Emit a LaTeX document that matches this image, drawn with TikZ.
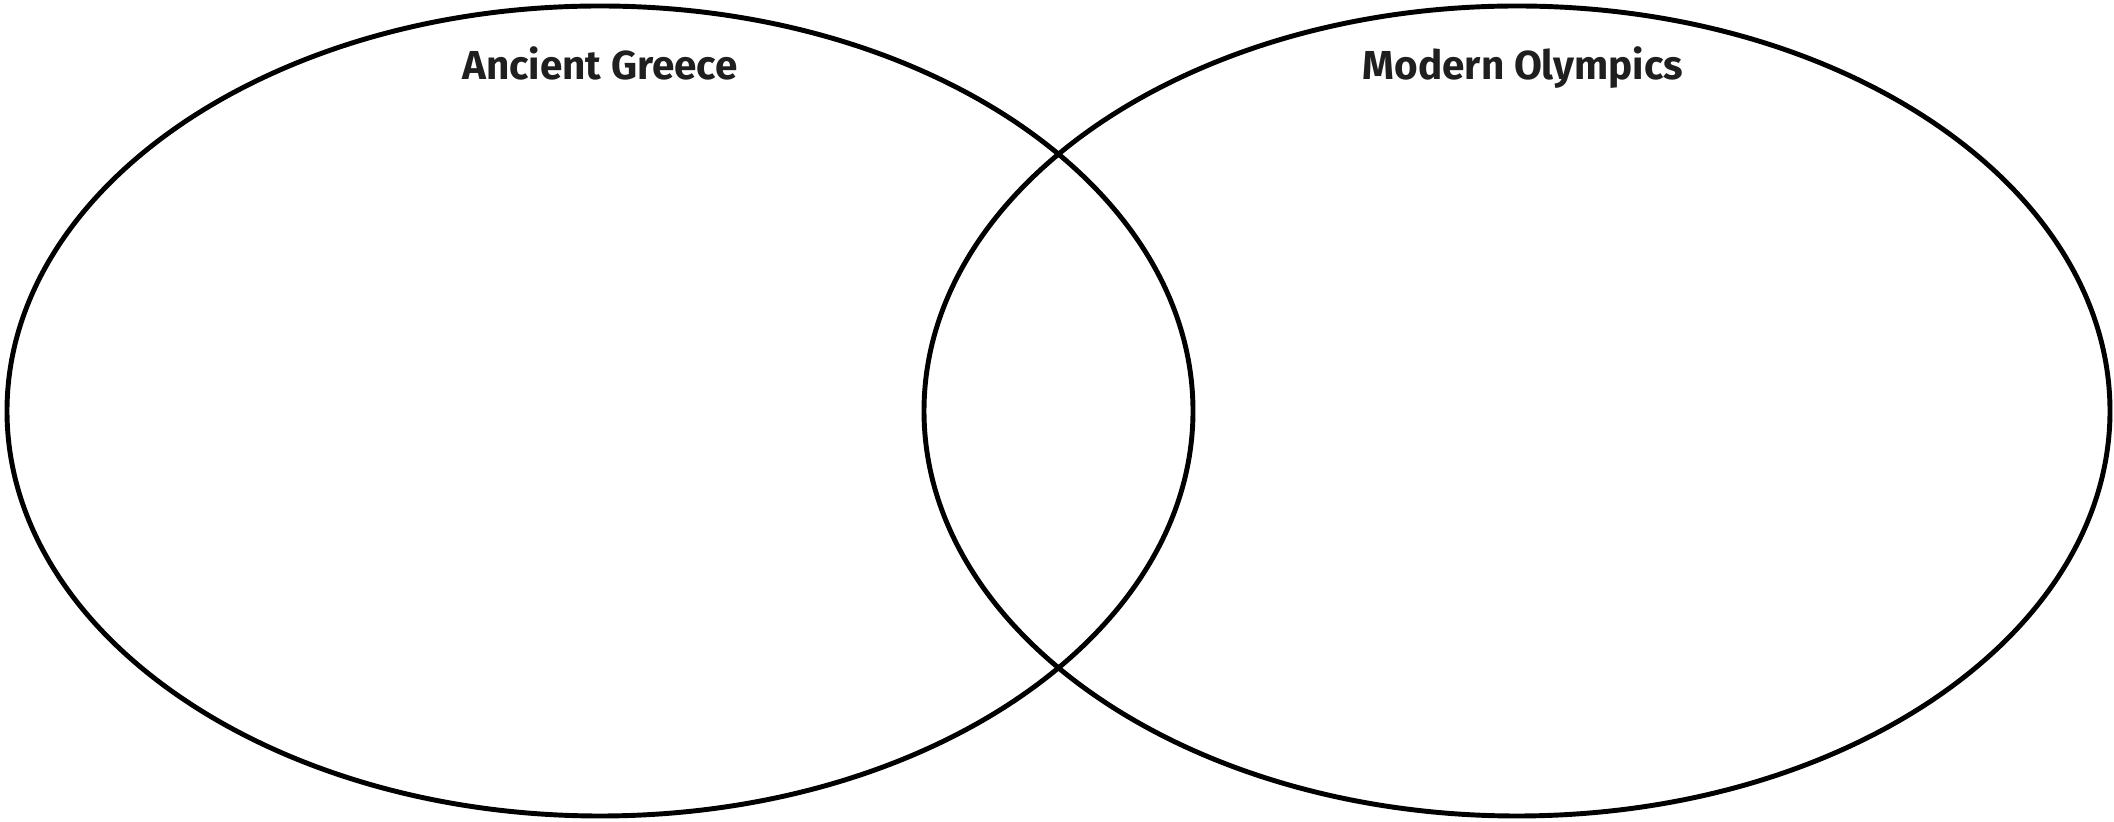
\documentclass[tikz,border=0pt]{standalone}
\usepackage{fontspec}
\setmainfont{Fira Sans}
\usetikzlibrary{positioning}

\begin{document}
\begin{tikzpicture}[x=0.01cm,y=-0.01cm,
  ring/.style={draw=black,line width=1.4pt},
  setlabel/.style={font=\fontsize{11.5}{14}\selectfont\bfseries,text=black!88,anchor=base},
]
  \useasboundingbox (0,0) rectangle (2114,822);
  \draw[ring] (600,411) ellipse [x radius=593,y radius=405];
  \draw[ring] (1517,411) ellipse [x radius=593,y radius=405];

  \node[setlabel] (ancient) at (600,80) {Ancient Greece};
  \node[setlabel] (modern)  at (1523,80) {Modern Olympics};
\end{tikzpicture}
\end{document}
